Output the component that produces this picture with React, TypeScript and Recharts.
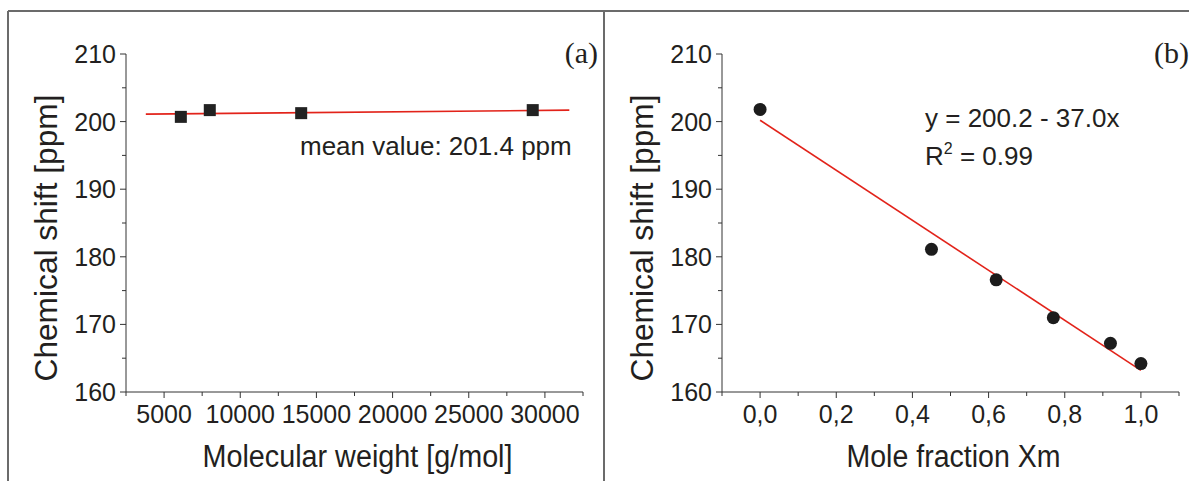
import { ScatterChart, Scatter, XAxis, YAxis, Label } from "recharts";

// panel (a): chemical shift vs molecular weight
const weights = [6100, 8000, 14000, 29200];
const weightShifts = [200.7, 201.7, 201.25, 201.7];
const weightFitX = [3800, 31600];
const weightFitY = [201.1, 201.7];
const weightTicks = [2500, 5000, 7500, 10000, 12500, 15000, 17500, 20000, 22500, 25000, 27500, 30000, 32500];

// panel (b): chemical shift vs mole fraction
const fractions = [0, 0.45, 0.62, 0.77, 0.92, 1.0];
const fractionShifts = [201.8, 181.1, 176.6, 171.0, 167.2, 164.2];
const fractionFitX = [0, 1];
const fractionFitY = [200.2, 163.2];
const fractionTicks = [-0.1, 0, 0.1, 0.2, 0.3, 0.4, 0.5, 0.6, 0.7, 0.8, 0.9, 1.0, 1.1];

const shiftTicks = [160, 165, 170, 175, 180, 185, 190, 195, 200, 205, 210];

const FONT = "'Liberation Sans', Arial, sans-serif";
const SERIF = "'Liberation Serif', 'Times New Roman', serif";
const INK = "#231f20";
const AXIS = "#333";
const RED = "#e2231a";

const toPoints = (xs: number[], ys: number[]) => xs.map((x, i) => ({ x, y: ys[i] }));

function XTick(props: any) {
  const { x, y, payload, isMajor, format } = props;
  const major = isMajor(payload.value);
  return (
    <g>
      <line x1={x} y1={y} x2={x} y2={y + (major ? 6 : 4)} stroke={AXIS} strokeWidth={1} />
      {major && (
        <text x={x} y={y + 31} textAnchor="middle" fontFamily={FONT} fontSize={25} fill={INK}>
          {format(payload.value)}
        </text>
      )}
    </g>
  );
}

function YTick(props: any) {
  const { x, y, payload } = props;
  const major = payload.value % 10 === 0;
  return (
    <g>
      <line x1={x - (major ? 6 : 4)} y1={y} x2={x} y2={y} stroke={AXIS} strokeWidth={1} />
      {major && (
        <text x={x - 10} y={y + 9} textAnchor="end" fontFamily={FONT} fontSize={25} fill={INK}>
          {payload.value}
        </text>
      )}
    </g>
  );
}

const square = (p: any) => <rect x={p.cx - 6} y={p.cy - 6} width={12} height={12} fill="#222" />;
const dot = (p: any) => <circle cx={p.cx} cy={p.cy} r={6.5} fill="#1c1c1c" />;
const none = () => <g />;

function Panel(props: {
  xs: number[];
  ys: number[];
  fitX: number[];
  fitY: number[];
  xDomain: [number, number];
  xTicks: number[];
  isMajor: (v: number) => boolean;
  format: (v: number) => string;
  xTitle: string;
  xTitleWidth: number;
  marker: (p: any) => any;
}) {
  return (
    <ScatterChart width={600} height={481} margin={{ top: 54, right: 17, bottom: 4, left: 26 }}>
      <XAxis
        type="number"
        dataKey="x"
        domain={props.xDomain}
        ticks={props.xTicks}
        interval={0}
        allowDataOverflow
        height={85}
        tickSize={0}
        tickMargin={0}
        tickLine={false}
        axisLine={{ stroke: AXIS, strokeWidth: 1 }}
        tick={(p: any) => <XTick {...p} isMajor={props.isMajor} format={props.format} />}
      >
        <Label
          content={(lp: any) => {
            const vb = lp.viewBox;
            return (
              <text
                x={vb.x + vb.width / 2 + 3}
                y={vb.y + 75}
                textAnchor="middle"
                textLength={props.xTitleWidth}
                lengthAdjust="spacingAndGlyphs"
                fontFamily={FONT}
                fontSize={31}
                fill={INK}
              >
                {props.xTitle}
              </text>
            );
          }}
        />
      </XAxis>
      <YAxis
        type="number"
        dataKey="y"
        domain={[160, 210]}
        ticks={shiftTicks}
        interval={0}
        allowDataOverflow
        width={100}
        tickSize={0}
        tickMargin={0}
        tickLine={false}
        axisLine={{ stroke: AXIS, strokeWidth: 1 }}
        tick={(p: any) => <YTick {...p} />}
      >
        <Label
          content={(lp: any) => {
            const vb = lp.viewBox;
            const cx = vb.x + 20;
            const cy = vb.y + vb.height / 2 + 15;
            return (
              <text
                x={cx}
                y={cy}
                transform={`rotate(-90 ${cx} ${cy})`}
                textAnchor="middle"
                dominantBaseline="central"
                textLength={287}
                lengthAdjust="spacingAndGlyphs"
                fontFamily={FONT}
                fontSize={31}
                fill={INK}
              >
                Chemical shift [ppm]
              </text>
            );
          }}
        />
      </YAxis>
      <Scatter
        data={toPoints(props.fitX, props.fitY)}
        line={{ stroke: RED, strokeWidth: 1.6 }}
        shape={none}
        isAnimationActive={false}
      />
      <Scatter data={toPoints(props.xs, props.ys)} shape={props.marker} isAnimationActive={false} />
    </ScatterChart>
  );
}

export default function App() {
  return (
    <div
      style={{
        position: "absolute",
        left: 0,
        top: 0,
        width: 1189,
        height: 481,
        overflow: "hidden",
        background: "#fff",
      }}
    >
      <div style={{ position: "absolute", left: 0, top: 0 }}>
        <Panel
          xs={weights}
          ys={weightShifts}
          fitX={weightFitX}
          fitY={weightFitY}
          xDomain={[2500, 32500]}
          xTicks={weightTicks}
          isMajor={(v) => v % 5000 === 0}
          format={(v) => String(v)}
          xTitle="Molecular weight [g/mol]"
          xTitleWidth={310}
          marker={square}
        />
      </div>
      <div style={{ position: "absolute", left: 596, top: 0 }}>
        <Panel
          xs={fractions}
          ys={fractionShifts}
          fitX={fractionFitX}
          fitY={fractionFitY}
          xDomain={[-0.1, 1.1]}
          xTicks={fractionTicks}
          isMajor={(v) => Math.round(v * 10) % 2 === 0 && v > -0.05 && v < 1.05}
          format={(v) => v.toFixed(1).replace(".", ",")}
          xTitle="Mole fraction Xm"
          xTitleWidth={214}
          marker={dot}
        />
      </div>

      <svg width={1189} height={481} style={{ position: "absolute", left: 0, top: 0, pointerEvents: "none" }}>
        <line x1={8} y1={11} x2={1189} y2={11} stroke="#6b6b6b" strokeWidth={2} />
        <line x1={8} y1={11} x2={8} y2={481} stroke="#6b6b6b" strokeWidth={2} />
        <line x1={604} y1={11} x2={604} y2={481} stroke="#6b6b6b" strokeWidth={2} />
        <text x={598} y={63} textAnchor="end" fontFamily={SERIF} fontSize={30} fill={INK}>
          (a)
        </text>
        <text x={1154} y={63} fontFamily={SERIF} fontSize={30} fill={INK}>
          (b)
        </text>
        <text x={300} y={155} fontFamily={FONT} fontSize={26} fill={INK}>
          mean value: 201.4 ppm
        </text>
        <text x={925} y={127} fontFamily={FONT} fontSize={26} fill={INK}>
          y = 200.2 - 37.0x
        </text>
        <text x={925} y={165} fontFamily={FONT} fontSize={26} fill={INK}>
          R
          <tspan dy={-11} fontSize={16}>2</tspan>
          <tspan dy={11}> = 0.99</tspan>
        </text>
      </svg>
    </div>
  );
}
